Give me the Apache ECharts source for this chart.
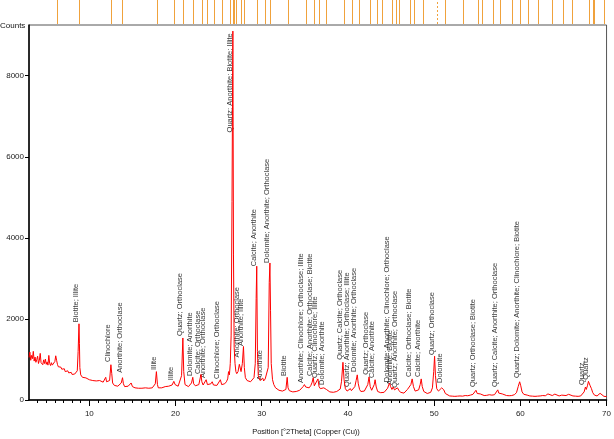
<!DOCTYPE html>
<html>
<head>
<meta charset="utf-8">
<script src="https://cdn.jsdelivr.net/npm/echarts@6/dist/echarts.min.js"></script>
<style>
  html, body { margin: 0; padding: 0; background: #fff; }
  #chart { width: 614px; height: 439px; }
</style>
</head>
<body>
<div id="chart"></div>
<script>
  // diffractogram: [2theta, counts]
  var pattern = [
    [3.0,1050],[3.1,1180],[3.2,980],[3.3,1100],[3.4,1020],[3.5,1200],[3.6,960],[3.7,1060],[3.8,930],[3.9,1000],
    [4.0,1080],[4.1,900],[4.2,980],[4.3,1150],[4.4,920],[4.5,950],[4.6,870],[4.7,990],[4.8,900],[4.9,1010],
    [5.0,880],[5.1,940],[5.2,860],[5.3,1100],[5.4,900],[5.5,850],[5.6,920],[5.7,860],[5.8,900],[5.9,830],
    [6.0,950],[6.1,1090],[6.2,980],[6.3,880],[6.4,820],[6.5,860],[6.6,790],[6.7,810],[6.8,760],[6.9,800],
    [7.0,730],[7.1,770],[7.2,700],[7.3,740],[7.4,690],[7.5,720],[7.6,670],[7.7,690],[7.8,650],[7.9,680],
    [8.0,630],[8.1,650],[8.2,610],[8.3,640],[8.4,600],[8.5,650],[8.6,720],[8.7,1200],[8.8,1880],[8.85,1400],
    [8.9,800],[9.0,620],[9.2,560],[9.4,530],[9.6,545],[9.8,510],[10.0,500],[10.2,520],[10.4,480],[10.6,490],
    [10.8,470],[11.0,460],[11.2,480],[11.4,450],[11.6,440],[11.8,470],[11.9,560],[12.0,450],[12.2,420],[12.35,480],
    [12.5,870],[12.6,650],[12.7,420],[12.9,360],[13.1,350],[13.3,340],[13.5,360],[13.7,420],[13.85,550],[13.95,400],
    [14.1,330],[14.3,320],[14.5,340],[14.7,310],[14.85,420],[15.0,330],[15.1,310],[15.3,300],[15.5,320],[15.7,290],
    [15.9,300],[16.1,290],[16.3,280],[16.5,300],[16.7,280],[16.9,290],[17.1,280],[17.3,300],[17.5,310],[17.65,400],
    [17.78,700],[17.9,380],[18.0,300],[18.2,280],[18.4,300],[18.6,290],[18.8,330],[19.0,300],[19.2,340],[19.4,320],
    [19.6,370],[19.8,460],[19.95,380],[20.1,350],[20.3,340],[20.5,380],[20.7,600],[20.85,1530],[20.95,700],[21.1,380],
    [21.3,340],[21.5,330],[21.7,350],[21.85,420],[22.0,560],[22.1,400],[22.3,350],[22.5,340],[22.7,380],[22.95,630],
    [23.05,450],[23.2,370],[23.35,400],[23.55,500],[23.7,380],[23.9,360],[24.1,400],[24.25,450],[24.4,370],[24.6,340],
    [24.8,360],[25.0,380],[25.2,500],[25.35,380],[25.5,370],[25.7,400],[25.9,450],[26.05,520],[26.15,700],[26.25,620],
    [26.35,900],[26.45,1600],[26.55,4900],[26.65,9100],[26.72,3600],[26.8,1300],[26.9,900],[27.0,700],[27.1,650],[27.25,700],
    [27.4,880],[27.5,900],[27.6,700],[27.75,900],[27.88,1320],[27.98,800],[28.1,550],[28.3,480],[28.5,470],[28.7,450],
    [28.9,480],[29.1,550],[29.25,900],[29.35,2500],[29.42,3300],[29.5,1200],[29.6,600],[29.8,480],[30.0,470],[30.12,540],
    [30.22,470],[30.4,520],[30.6,560],[30.75,800],[30.87,2900],[30.95,3380],[31.02,2200],[31.1,900],[31.25,500],[31.4,380],
    [31.6,300],[31.8,260],[32.0,240],[32.2,230],[32.4,220],[32.6,230],[32.8,260],[32.95,560],[33.05,300],[33.2,230],
    [33.4,210],[33.6,200],[33.8,220],[34.0,210],[34.2,230],[34.4,240],[34.6,270],[34.8,330],[34.95,380],[35.1,320],
    [35.3,280],[35.5,300],[35.7,360],[35.85,440],[35.97,550],[36.1,350],[36.3,330],[36.52,520],[36.65,330],[36.8,280],
    [37.0,270],[37.2,300],[37.35,330],[37.5,260],[37.7,220],[37.9,200],[38.1,210],[38.3,190],[38.5,200],[38.7,210],
    [38.9,230],[39.1,270],[39.25,450],[39.42,930],[39.55,500],[39.7,280],[39.9,220],[40.1,240],[40.28,280],[40.4,230],
    [40.6,240],[40.8,330],[40.95,480],[41.08,620],[41.2,400],[41.35,260],[41.5,210],[41.7,200],[41.9,220],[42.1,260],
    [42.3,380],[42.45,570],[42.58,330],[42.75,240],[42.9,270],[43.05,380],[43.15,500],[43.28,320],[43.45,210],[43.6,190],
    [43.8,180],[44.0,180],[44.2,190],[44.4,220],[44.6,290],[44.82,420],[44.95,330],[45.1,260],[45.25,320],[45.4,250],
    [45.55,280],[45.75,300],[45.9,240],[46.1,190],[46.3,160],[46.5,170],[46.7,210],[46.9,260],[47.1,300],[47.3,380],
    [47.45,520],[47.6,330],[47.8,220],[48.0,200],[48.2,250],[48.38,380],[48.5,520],[48.62,330],[48.8,210],[49.0,170],
    [49.2,160],[49.4,170],[49.6,190],[49.8,300],[49.95,700],[50.05,1080],[50.15,600],[50.3,280],[50.5,220],[50.7,240],
    [50.88,300],[51.0,340],[51.12,250],[51.3,160],[51.5,120],[51.8,100],[52.1,95],[52.4,90],[52.7,95],[53.0,100],
    [53.3,95],[53.6,110],[53.9,105],[54.2,120],[54.5,140],[54.7,180],[54.85,240],[55.0,160],[55.2,130],[55.35,150],
    [55.5,120],[55.8,110],[56.1,115],[56.4,130],[56.55,150],[56.7,120],[57.0,130],[57.2,170],[57.38,250],[57.5,170],
    [57.7,130],[57.9,150],[58.1,120],[58.4,110],[58.7,105],[59.0,110],[59.3,130],[59.55,180],[59.75,330],[59.92,450],
    [60.05,350],[60.2,200],[60.4,140],[60.55,160],[60.8,120],[61.1,100],[61.4,95],[61.7,90],[62.0,95],[62.3,100],
    [62.6,110],[62.9,105],[63.2,150],[63.4,115],[63.7,110],[64.0,145],[64.2,110],[64.5,100],[64.8,120],[65.0,105],
    [65.3,110],[65.6,140],[65.8,115],[66.1,100],[66.4,95],[66.7,90],[67.0,100],[67.2,130],[67.4,200],[67.55,320],
    [67.65,260],[67.78,350],[67.9,460],[68.0,500],[68.1,350],[68.25,280],[68.4,180],[68.6,120],[68.9,100],[69.1,130],
    [69.25,165],[69.4,120],[69.7,90],[70.0,85]
  ];

  // phase labels: [2theta, counts where the text starts, text]
  var peakLabels = [
    [8.8, 1920, 'Biotite; Illite'],
    [12.5, 940, 'Clinochlore'],
    [13.85, 670, 'Anorthite; Orthoclase'],
    [17.8, 740, 'Illite'],
    [19.85, 490, 'Illite'],
    [20.85, 1580, 'Quartz; Orthoclase'],
    [22.0, 590, 'Dolomite; Anorthite'],
    [22.95, 640, 'Calcite; Orthoclase'],
    [23.55, 540, 'Anorthite; Orthoclase'],
    [25.2, 520, 'Clinochlore; Orthoclase'],
    [26.65, 6600, 'Quartz; Anorthite; Biotite; Illite'],
    [27.45, 1050, 'Anorthite; Orthoclase'],
    [27.9, 1330, 'Anorthite; Illite'],
    [29.42, 3300, 'Calcite; Anorthite'],
    [30.12, 490, 'Anorthite'],
    [30.95, 3380, 'Dolomite; Anorthite; Orthoclase'],
    [32.95, 590, 'Biotite'],
    [34.95, 420, 'Anorthite; Clinochlore; Orthoclase; Illite'],
    [35.97, 590, 'Calcite; Anorthite; Orthoclase; Biotite'],
    [36.52, 540, 'Quartz; Clinochlore; Illite'],
    [37.35, 370, 'Dolomite; Anorthite'],
    [39.42, 990, 'Quartz; Calcite; Orthoclase'],
    [40.28, 320, 'Quartz; Anorthite; Orthoclase; Illite'],
    [41.08, 690, 'Dolomite; Anorthite; Orthoclase'],
    [42.45, 620, 'Quartz; Orthoclase'],
    [43.15, 540, 'Calcite; Anorthite'],
    [44.82, 440, 'Dolomite; Anorthite; Clinochlore; Orthoclase'],
    [45.25, 370, 'Anorthite; Biotite'],
    [45.75, 300, 'Quartz; Anorthite; Orthoclase'],
    [47.45, 570, 'Calcite; Orthoclase; Biotite'],
    [48.5, 570, 'Calcite; Anorthite'],
    [50.05, 1110, 'Quartz; Orthoclase'],
    [51.0, 420, 'Dolomite'],
    [54.85, 320, 'Quartz; Orthoclase; Biotite'],
    [57.38, 320, 'Quartz; Calcite; Anorthite; Orthoclase'],
    [59.92, 540, 'Quartz; Dolomite; Anorthite; Clinochlore; Biotite'],
    [67.55, 370, 'Quartz'],
    [68.0, 500, 'Quartz']
  ];

  // reference stick positions shown in the strip above the plot
  var refLines = [6.3,8.83,12.48,13.71,17.74,19.77,20.73,21.88,22.99,23.49,24.3,25.22,26.18,26.56,26.67,26.87,
    27.41,27.82,29.25,30.2,30.78,32.88,34.91,35.88,36.45,37.22,39.33,40.18,40.99,42.29,43.06,43.67,44.82,
    45.31,45.66,46.92,47.35,48.39,50.95,52.95,54.68,55.14,56.41,57.28,58.62,59.58,60.5,61.58,63.19,64.49,
    65.5,67.44,67.9,68.05,69.2];
  var refDashed = [50.03];

  var xTickLabels = [10, 20, 30, 40, 50, 60, 70];
  var xMinorTicks = [4,5,6,7,8,9,11,12,13,14,15,16,17,18,19,21,22,23,24,25,26,27,28,29,31,32,33,34,35,36,37,38,39,
    41,42,43,44,45,46,47,48,49,51,52,53,54,55,56,57,58,59,61,62,63,64,65,66,67,68,69];
  var yTickLabels = [0, 2000, 4000, 6000, 8000];

  var chart = echarts.init(document.getElementById('chart'), null, { renderer: 'canvas' });

  var refMarks = refLines.map(function (v) { return { xAxis: v }; })
    .concat(refDashed.map(function (v) { return { xAxis: v, lineStyle: { type: [2, 2] } }; }));

  var option = {
    animation: false,
    backgroundColor: '#fff',
    textStyle: { fontFamily: 'Liberation Sans, Arial, sans-serif' },
    graphic: [
      {
        type: 'text', left: 0, top: 22,
        style: { text: 'Counts', fontSize: 8, fill: '#111', fontFamily: 'Liberation Sans' }
      },
      {
        type: 'text', x: 306, y: 432,
        style: {
          text: 'Position [°2Theta] (Copper (Cu))', fontSize: 7.5, fill: '#111',
          fontFamily: 'Liberation Sans', align: 'center', verticalAlign: 'middle'
        }
      }
    ],
    grid: [
      { left: 29, right: 3, top: 25, bottom: 39, show: true, borderColor: '#555', borderWidth: 1 },
      { left: 29, right: 3, top: 0, height: 24 }
    ],
    xAxis: [
      {
        type: 'value', gridIndex: 0, min: 3, max: 70,
        axisLine: { lineStyle: { color: '#000', width: 1.5 } },
        axisTick: { length: 6, lineStyle: { color: '#000' }, customValues: xTickLabels },
        axisLabel: { fontSize: 8, color: '#222', margin: 10, customValues: xTickLabels },
        splitLine: { show: false }
      },
      {
        type: 'value', gridIndex: 0, min: 3, max: 70, position: 'bottom',
        axisLine: { show: false },
        axisTick: { length: 3, lineStyle: { color: '#000' }, customValues: xMinorTicks },
        axisLabel: { show: false },
        splitLine: { show: false }
      },
      { type: 'value', gridIndex: 1, min: 3, max: 70, show: false }
    ],
    yAxis: [
      {
        type: 'value', gridIndex: 0, min: 0, max: 9250,
        axisLine: { show: true, lineStyle: { color: '#000', width: 1.5 } },
        axisTick: { show: true, length: 4, lineStyle: { color: '#000' }, customValues: yTickLabels },
        axisLabel: {
          fontSize: 8, color: '#222', margin: 5, customValues: yTickLabels,
          formatter: function (v) { return String(v); }
        },
        splitLine: { show: false }
      },
      { type: 'value', gridIndex: 1, min: 0, max: 1, show: false }
    ],
    series: [
      {
        type: 'line', xAxisIndex: 0, yAxisIndex: 0,
        data: pattern, showSymbol: false, symbol: 'none',
        lineStyle: { color: '#ff0000', width: 1 }, silent: true
      },
      {
        type: 'scatter', xAxisIndex: 0, yAxisIndex: 0,
        data: peakLabels, symbolSize: 0, silent: true,
        label: {
          show: true, rotate: 90, position: [1, 0], distance: 0,
          align: 'left', verticalAlign: 'bottom',
          fontSize: 7.5, color: '#000', fontFamily: 'Liberation Sans',
          formatter: function (p) { return p.value[2]; }
        }
      },
      {
        type: 'line', xAxisIndex: 2, yAxisIndex: 1, data: [], silent: true,
        markLine: {
          silent: true, symbol: ['none', 'none'], label: { show: false },
          lineStyle: { color: '#f0a23c', width: 1, type: 'solid' },
          data: refMarks
        }
      }
    ]
  };

  chart.setOption(option);
</script>
</body>
</html>
